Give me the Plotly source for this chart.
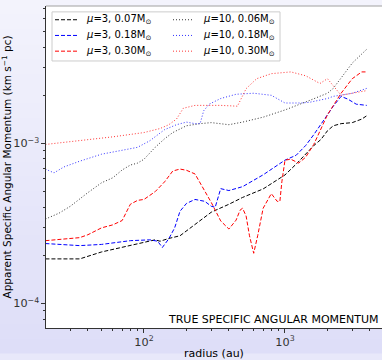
import plotly.graph_objects as go

# ---- data (radius in au, apparent specific angular momentum in km s^-1 pc) ----
r_k3 = [20, 35, 50, 70, 100, 120, 130, 150, 180, 250, 300, 400, 500, 700, 1000, 1200, 1400, 1600, 1800, 2000, 2200, 2500, 3000, 3500, 3800]
j_k3 = [1.90e-4, 1.90e-4, 2.10e-4, 2.25e-4, 2.40e-4, 2.50e-4, 2.45e-4, 2.55e-4, 2.65e-4, 3.28e-4, 3.72e-4, 4.17e-4, 4.60e-4, 5.20e-4, 6.36e-4, 7.43e-4, 8.57e-4, 9.70e-4, 1.06e-3, 1.20e-3, 1.29e-3, 1.33e-3, 1.35e-3, 1.42e-3, 1.49e-3]

r_b3 = [20, 35, 50, 80, 110, 125, 135, 150, 165, 180, 200, 230, 270, 300, 320, 350, 400, 500, 700, 1000, 1200, 1400, 1600, 1800, 2000, 2200, 2500, 2800, 3200, 3800]
j_b3 = [2.37e-4, 2.30e-4, 2.34e-4, 2.47e-4, 2.50e-4, 2.45e-4, 2.24e-4, 2.54e-4, 2.97e-4, 3.77e-4, 4.22e-4, 4.47e-4, 4.35e-4, 4.05e-4, 4.00e-4, 5.22e-4, 5.08e-4, 5.37e-4, 6.37e-4, 7.87e-4, 8.44e-4, 9.70e-4, 1.135e-3, 1.31e-3, 1.51e-3, 1.71e-3, 1.97e-3, 1.89e-3, 1.76e-3, 1.73e-3]

r_r3 = [20, 35, 40, 50, 60, 70, 80, 90, 100, 120, 140, 160, 180, 200, 230, 260, 300, 350, 400, 450, 480, 500, 530, 560, 600, 640, 700, 800, 880, 920, 950, 1000, 1100, 1250, 1400, 1600, 1800, 2000, 2500, 3000, 3500, 3800]
j_r3 = [2.47e-4, 2.58e-4, 2.69e-4, 2.97e-4, 3.10e-4, 3.30e-4, 4.17e-4, 4.41e-4, 4.47e-4, 5.00e-4, 5.76e-4, 6.73e-4, 6.92e-4, 6.80e-4, 6.45e-4, 5.37e-4, 4.28e-4, 3.28e-4, 2.92e-4, 3.32e-4, 3.83e-4, 3.94e-4, 3.52e-4, 2.65e-4, 2.06e-4, 2.65e-4, 3.94e-4, 4.86e-4, 4.35e-4, 4.35e-4, 5.76e-4, 7.87e-4, 7.97e-4, 7.54e-4, 8.20e-4, 9.86e-4, 1.25e-3, 1.51e-3, 2.06e-3, 2.54e-3, 2.80e-3, 2.80e-3]

r_k10 = [20, 25, 30, 35, 40, 50, 60, 70, 80, 90, 100, 120, 140, 160, 200, 250, 300, 400, 500, 700, 1000, 1500, 2000, 2200, 2500, 3000, 3800]
j_k10 = [3.37e-4, 3.67e-4, 4.05e-4, 4.53e-4, 4.93e-4, 5.68e-4, 6.10e-4, 6.83e-4, 7.33e-4, 7.54e-4, 7.97e-4, 9.46e-4, 1.07e-3, 1.17e-3, 1.29e-3, 1.33e-3, 1.35e-3, 1.31e-3, 1.36e-3, 1.46e-3, 1.62e-3, 1.86e-3, 2.06e-3, 2.21e-3, 2.58e-3, 3.18e-3, 3.88e-3]

r_b10 = [20, 23, 27, 35, 50, 70, 90, 110, 140, 170, 200, 230, 250, 265, 290, 350, 450, 600, 800, 1000, 1300, 1500, 2000, 2200, 2500, 3000, 3800]
j_b10 = [6.92e-4, 6.55e-4, 7.13e-4, 7.75e-4, 8.57e-4, 9.06e-4, 9.46e-4, 1.04e-3, 1.22e-3, 1.31e-3, 1.36e-3, 1.33e-3, 1.33e-3, 1.60e-3, 1.76e-3, 1.91e-3, 2.03e-3, 2.06e-3, 2.00e-3, 1.79e-3, 1.79e-3, 1.81e-3, 1.91e-3, 1.97e-3, 2.00e-3, 2.06e-3, 2.21e-3]

r_r10 = [20, 35, 60, 100, 130, 150, 170, 190, 230, 350, 460, 530, 630, 800, 1100, 1400, 1770, 2000, 2200, 2500, 3000, 3800]
j_r10 = [9.86e-4, 1.04e-3, 1.10e-3, 1.17e-3, 1.24e-3, 1.31e-3, 1.42e-3, 1.66e-3, 1.73e-3, 1.73e-3, 1.71e-3, 2.20e-3, 2.54e-3, 2.73e-3, 2.80e-3, 2.65e-3, 2.37e-3, 2.54e-3, 2.30e-3, 2.00e-3, 2.06e-3, 2.14e-3]

names = {
    "k3": "<i>μ</i>=3, 0.07M<sub>⊙</sub>",
    "b3": "<i>μ</i>=3, 0.18M<sub>⊙</sub>",
    "r3": "<i>μ</i>=3, 0.30M<sub>⊙</sub>",
    "k10": "<i>μ</i>=10, 0.06M<sub>⊙</sub>",
    "b10": "<i>μ</i>=10, 0.18M<sub>⊙</sub>",
    "r10": "<i>μ</i>=10, 0.30M<sub>⊙</sub>",
}

DASH = "4px,2px"
DOT = "1px,2px"

# (key, r, j, colour, dash, legend column, legend row)
series = [
    ("k3", r_k3, j_k3, "black", DASH, 0, 0),
    ("b3", r_b3, j_b3, "blue", DASH, 0, 1),
    ("r3", r_r3, j_r3, "red", DASH, 0, 2),
    ("k10", r_k10, j_k10, "rgba(0,0,0,0.8)", DOT, 1, 0),
    ("b10", r_b10, j_b10, "rgba(0,0,255,0.8)", DOT, 1, 1),
    ("r10", r_r10, j_r10, "rgba(255,0,0,0.8)", DOT, 1, 2),
]

# plot-area geometry (pixels) used to place legend/annotations in paper units
L, R, T, B = 46, 382, 6, 334
PW, PH = R - L, B - T


def px(x):
    return (x - L) / PW


def py(y):
    return 1 - (y - T) / PH


fig = go.Figure()
for key, rx, jy, col, dash, c, rr in series:
    fig.add_trace(go.Scatter(x=rx, y=jy, mode="lines", name=names[key], showlegend=False,
                             line=dict(color=col, width=1, dash=dash)))

# background gradient (figure) + white plot area
shapes = []
n = 24
y0p, y1p = -(360 - B) / PH, 1 + T / PH
x0p = -L / PW
c_bot = (222, 222, 248)
c_top = (243, 243, 252)
for i in range(n):
    t = i / (n - 1)
    cc = tuple(int(round(c_bot[k] + (c_top[k] - c_bot[k]) * t)) for k in range(3))
    ya = y0p + (y1p - y0p) * i / n
    yb = y0p + (y1p - y0p) * (i + 1) / n
    shapes.append(dict(type="rect", xref="paper", yref="paper", x0=x0p, x1=1.0,
                       y0=ya, y1=yb + 0.002, line=dict(width=0),
                       fillcolor="rgb(%d,%d,%d)" % cc, layer="below"))
shapes.append(dict(type="rect", xref="paper", yref="paper", x0=0, x1=1, y0=0, y1=1,
                   line=dict(width=0), fillcolor="white", layer="below"))
shapes.append(dict(type="line", xref="paper", yref="paper", x0=0, x1=1, y0=1, y1=1,
                   line=dict(color="#a0a0a0", width=1)))

# custom legend (two columns)
shapes.append(dict(type="rect", xref="paper", yref="paper", x0=px(52), x1=px(280),
                   y0=py(62), y1=py(12), line=dict(color="#cccccc", width=1),
                   fillcolor="white", layer="above"))
annotations = []
col_x = [(55, 77, 84), (173, 194, 201)]
row_y = [20, 36, 52]
for key, rx, jy, col, dash, c, rr in series:
    xs, xe, xt = col_x[c]
    yy = row_y[rr]
    shapes.append(dict(type="line", xref="paper", yref="paper", x0=px(xs), x1=px(xe),
                       y0=py(yy), y1=py(yy), line=dict(color=col, width=1, dash=dash),
                       layer="above"))
    annotations.append(dict(text=names[key], xref="paper", yref="paper", x=px(xt), y=py(yy),
                            xanchor="left", yanchor="middle", showarrow=False,
                            font=dict(size=10, color="black")))

annotations.append(dict(text="TRUE SPECIFIC ANGULAR MOMENTUM", xref="paper", yref="paper",
                        x=px(381), y=py(325), xanchor="right", yanchor="middle", showarrow=False,
                        font=dict(size=11, color="black")))

axis_common = dict(type="log", showgrid=False, zeroline=False, showline=True,
                   linecolor="#333333", linewidth=1, ticks="outside", ticklen=4,
                   tickcolor="#333333", exponentformat="power", dtick=1,
                   tickfont=dict(size=9, color="#333333"),
                   minor=dict(ticks="outside", ticklen=2, tickcolor="#333333",
                              dtick="D1", showgrid=False))

fig.update_layout(
    width=382, height=360,
    margin=dict(l=L, r=382 - R, t=T, b=360 - B),
    paper_bgcolor="rgb(232,232,250)",
    plot_bgcolor="white",
    font=dict(family="DejaVu Sans", color="black"),
    shapes=shapes,
    annotations=annotations,
    showlegend=False,
    xaxis=dict(range=[1.305, 3.688], title=dict(text="radius (au)", font=dict(size=11), standoff=3),
               **axis_common),
    yaxis=dict(range=[-4.153, -2.141],
               title=dict(text="Apparent Specific Angular Momentum (km s<sup>−1</sup> pc)",
                          font=dict(size=10.5), standoff=2),
               **axis_common),
)

fig.write_html("out.html")
